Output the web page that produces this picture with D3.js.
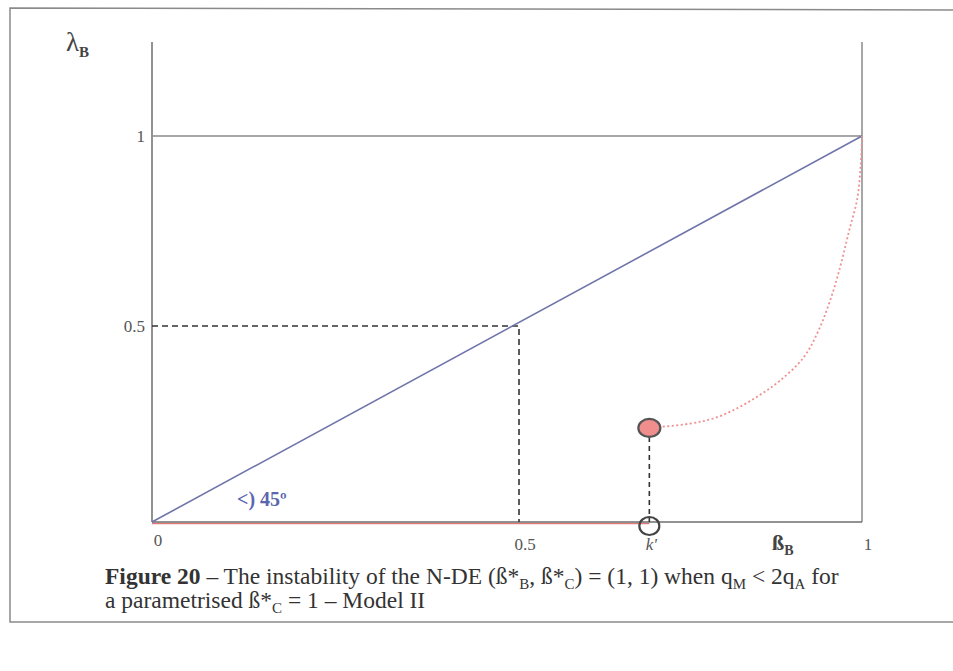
<!DOCTYPE html>
<html>
<head>
<meta charset="utf-8">
<script src="https://cdn.jsdelivr.net/npm/d3@7/dist/d3.min.js"></script>
<style>
  html, body { margin: 0; padding: 0; background: #fff; }
  svg { display: block; }
  text { font-family: "Liberation Serif", "Times New Roman", serif; }
</style>
</head>
<body>
<svg id="chart" width="953" height="671"></svg>
<script>
// Axis ticks (value, label)
const xTicks = [
  { v: 0.5, label: "0.5" },
  { v: 1, label: "1" }
];
const yTicks = [
  { v: 1, label: "1" },
  { v: 0.5, label: "0.5" }
];
const originLabel = "0";

// Critical threshold k' and the unstable branch starting there
const kPrime = 0.69;
const kLabel = "k'";
const kLambda = 0.24;

// 45-degree line
const diagonal = [[0, 0], [1, 1]];
// guide to the point (0.5, 0.5)
const guidePoint = [0.5, 0.5];
// red segment on λ = 0 from 0 to k'
const zeroBranch = [[0, 0], [kPrime, 0]];
// dotted red curve from (k', λ) up to (1, 1)
const curve = [
  [0.69, 0.24], [0.749, 0.251], [0.783, 0.264], [0.818, 0.29], [0.851, 0.324],
  [0.88, 0.36], [0.915, 0.42], [0.937, 0.49], [0.955, 0.575], [0.969, 0.661],
  [0.981, 0.749], [0.993, 0.834], [0.998, 0.92], [1, 1]
];

const svg = d3.select("#chart");

// outer frame
svg.append("path")
  .attr("d", "M960,10 L10,8 L10,622 L960,622")
  .attr("fill", "none").attr("stroke", "#8a8a8a").attr("stroke-width", 1.5);

const x = d3.scaleLinear().domain([0, 0.5, 1]).range([152, 519, 862]);
const y = d3.scaleLinear().domain([0, 0.5, 1, 1.25]).range([522, 326, 136, 42]);

const line = d3.line().x(d => x(d[0])).y(d => y(d[1]));

// axes frame: left axis, right boundary, bottom axis, λ = 1 line
const g = svg.append("g");
g.append("line").attr("x1", x(0)).attr("x2", x(0)).attr("y1", y(1.25)).attr("y2", y(0))
  .attr("stroke", "#6e6e6e").attr("stroke-width", 1.5);
g.append("line").attr("x1", x(1)).attr("x2", x(1)).attr("y1", y(1.25)).attr("y2", y(0))
  .attr("stroke", "#8a8a8a").attr("stroke-width", 1.5);
g.append("line").attr("x1", x(0)).attr("x2", x(1)).attr("y1", y(1)).attr("y2", y(1))
  .attr("stroke", "#8a8a8a").attr("stroke-width", 1.5);

// red λ = 0 branch (drawn slightly under the axis)
g.append("path").datum(zeroBranch).attr("d", line)
  .attr("transform", "translate(0,1.5)")
  .attr("fill", "none").attr("stroke", "#e07a78").attr("stroke-width", 1.5);

g.append("line").attr("x1", x(0)).attr("x2", x(1)).attr("y1", y(0)).attr("y2", y(0))
  .attr("stroke", "#6e6e6e").attr("stroke-width", 1.5);

// dashed guides to (0.5, 0.5)
g.append("path")
  .attr("d", `M${x(0)},${y(guidePoint[1])} L${x(guidePoint[0])},${y(guidePoint[1])} L${x(guidePoint[0])},${y(0)}`)
  .attr("fill", "none").attr("stroke", "#333").attr("stroke-width", 1.6)
  .attr("stroke-dasharray", "6,4");

// diagonal
g.append("path").datum(diagonal).attr("d", line)
  .attr("fill", "none").attr("stroke", "#6f74aa").attr("stroke-width", 1.6);

// dashed guide from k' to the unstable point
g.append("line").attr("x1", x(kPrime)).attr("x2", x(kPrime))
  .attr("y1", y(kLambda)).attr("y2", y(0))
  .attr("stroke", "#333").attr("stroke-width", 1.6).attr("stroke-dasharray", "5,4");

// dotted red curve
g.append("path").datum(curve).attr("d", line.curve(d3.curveCatmullRom))
  .attr("fill", "none").attr("stroke", "#ef9090").attr("stroke-width", 1.8)
  .attr("stroke-dasharray", "2,2.5");

// open circle at (k', 0) and filled circle at (k', λ)
g.append("ellipse").attr("cx", x(kPrime)).attr("cy", y(0) + 4).attr("rx", 10).attr("ry", 9)
  .attr("fill", "none").attr("stroke", "#444").attr("stroke-width", 2.2);
g.append("ellipse").attr("cx", x(kPrime)).attr("cy", y(kLambda)).attr("rx", 11).attr("ry", 9)
  .attr("fill", "#f08d8d").attr("stroke", "#555").attr("stroke-width", 2.2);

// tick labels
const tickFont = 17, tickColor = "#555";
g.selectAll(".ytick").data(yTicks).join("text")
  .attr("x", x(0) - 7).attr("y", d => y(d.v) + 6)
  .attr("text-anchor", "end").attr("font-size", tickFont).attr("fill", tickColor)
  .text(d => d.label);
g.selectAll(".xtick").data(xTicks).join("text")
  .attr("x", d => x(d.v) + 6).attr("y", 550)
  .attr("text-anchor", "middle").attr("font-size", tickFont).attr("fill", tickColor)
  .text(d => d.label);
g.append("text").attr("x", x(0) + 6).attr("y", 546)
  .attr("text-anchor", "middle").attr("font-size", tickFont).attr("fill", tickColor)
  .text(originLabel);
g.append("text").attr("x", x(kPrime) + 2).attr("y", 550)
  .attr("text-anchor", "middle").attr("font-size", tickFont).attr("fill", tickColor)
  .attr("font-style", "italic").text(kLabel);

// axis titles
const yTitle = g.append("text").attr("x", 66).attr("y", 51)
  .attr("font-size", 27).attr("fill", "#444");
yTitle.append("tspan").text("λ");
yTitle.append("tspan").attr("dy", 6).attr("font-size", 15).attr("font-weight", "bold").text("B");

const xTitle = g.append("text").attr("x", 772).attr("y", 550)
  .attr("font-size", 22).attr("font-weight", "bold").attr("fill", "#444");
xTitle.append("tspan").text("ß");
xTitle.append("tspan").attr("dy", 5).attr("font-size", 14).text("B");

// angle annotation
g.append("text").attr("x", 237).attr("y", 506)
  .attr("font-size", 20).attr("font-weight", "bold").attr("fill", "#5c66ae")
  .text("<) 45º");

// caption
const cap = svg.append("text").attr("font-size", 23.5).attr("fill", "#333");
const l1 = cap.append("tspan").attr("x", 105).attr("y", 584);
l1.append("tspan").attr("font-weight", "bold").text("Figure 20");
l1.append("tspan").text(" – The instability of the N-DE (ß*");
l1.append("tspan").attr("dy", 5).attr("font-size", 15).text("B");
l1.append("tspan").attr("dy", -5).text(", ß*");
l1.append("tspan").attr("dy", 5).attr("font-size", 15).text("C");
l1.append("tspan").attr("dy", -5).text(") = (1, 1) when q");
l1.append("tspan").attr("dy", 5).attr("font-size", 15).text("M");
l1.append("tspan").attr("dy", -5).text(" < 2q");
l1.append("tspan").attr("dy", 5).attr("font-size", 15).text("A");
l1.append("tspan").attr("dy", -5).text(" for");
const l2 = cap.append("tspan").attr("x", 105).attr("y", 608);
l2.append("tspan").text("a parametrised ß*");
l2.append("tspan").attr("dy", 5).attr("font-size", 15).text("C");
l2.append("tspan").attr("dy", -5).text(" = 1 – Model II");
</script>
</body>
</html>
